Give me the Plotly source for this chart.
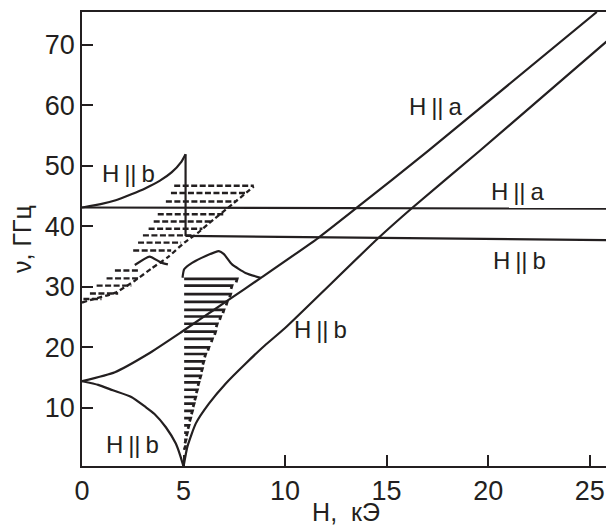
import plotly.graph_objects as go

INK = "#231f20"
FONT = "Liberation Sans, Arial, sans-serif"

# --- solid curves (H in kOe, nu in GHz) ---
hb_top_x = [0, 0.97, 1.66, 2.43, 3.13, 3.82, 4.41, 4.9, 5.1]
hb_top_y = [43.1, 43.7, 44.3, 45.3, 46.3, 47.5, 48.9, 50.7, 51.9]

vert_x = [5.1, 5.1]
vert_y = [51.9, 38.4]

hb_flat_x = [5.1, 26]
hb_flat_y = [38.4, 37.7]

ha_flat_x = [0, 26]
ha_flat_y = [43.1, 42.9]

ha_diag_x = [0, 1.62, 3.25, 4.88, 5.93, 7.07, 8.86, 11.64, 13.47, 17.03, 25.35]
ha_diag_y = [14.4, 15.9, 18.9, 22.5, 24.9, 27.5, 31.6, 38.1, 42.9, 52.4, 75.4]

hb_diag_x = [5.0, 5.19, 5.6, 6.25, 7.07, 8.05, 9.0, 10.0, 14.54, 16.21, 19.56, 26]
hb_diag_y = [0.3, 3.6, 7.4, 10.7, 14.0, 17.3, 20.3, 23.2, 37.9, 42.9, 52.4, 71.0]

hb_low_x = [0, 0.8, 1.52, 2.43, 3.15, 3.57, 4.13, 4.62, 4.85, 5.0]
hb_low_y = [14.4, 13.8, 12.9, 11.8, 10.1, 9.0, 6.8, 4.1, 2.0, 0.3]

bump_x = [4.95, 5.03, 5.44, 6.09, 6.74, 6.99, 7.39, 8.05, 8.79]
bump_y = [31.5, 32.9, 34.0, 35.1, 35.9, 35.4, 33.7, 32.3, 31.5]

squig_x = [2.6, 3.33, 3.9, 4.23]
squig_y = [33.6, 35.0, 34.0, 33.7]

# --- dashed boundary of the dashed-hatched band ---
dash_bound_x = [0, 0.48, 1.62, 2.6, 3.41, 4.23, 5.04, 5.7, 6.25, 7.39, 8.46]
dash_bound_y = [27.4, 27.9, 29.0, 31.0, 33.0, 34.9, 37.3, 38.9, 40.5, 43.6, 46.6]

# dashed hatch rows: level, start, end
dh_y = [46.7, 45.5, 44.1, 42.0, 40.8, 39.6, 38.5, 37.3, 36.0, 32.7, 31.4, 30.2, 28.9, 28.0]
dh_x0 = [4.54, 4.38, 4.13, 3.73, 3.53, 3.28, 3.0, 2.76, 2.52, 1.62, 1.21, 0.72, 0.39, 0.07]
dh_x1 = [8.46, 8.05, 7.56, 6.99, 6.34, 5.93, 5.4, 4.88, 4.39, 2.84, 2.85, 2.43, 1.78, 0.96]

# solid hatch rows: level, end (all start at H = 5.03)
sh_y = [31.3, 30.2, 28.8, 27.5, 26.2, 25.1, 23.9, 22.6, 21.4, 20.0, 18.9, 17.7,
        16.5, 15.3, 14.2, 13.0, 11.8, 10.7, 9.5, 8.3, 7.1, 5.9, 4.7, 3.6]
sh_x1 = [7.64, 7.39, 7.32, 7.15, 6.99, 6.83, 6.66, 6.58, 6.42, 6.25, 6.09, 6.0,
         5.93, 5.85, 5.76, 5.68, 5.6, 5.52, 5.44, 5.35, 5.27, 5.19, 5.12, 5.08]
sh_x0 = 5.03

labels = ["H\u2009||\u2009b", "H\u2009||\u2009b", "H\u2009||\u2009a",
          "H\u2009||\u2009a", "H\u2009||\u2009b", "H\u2009||\u2009b"]
label_x = [2.28, 2.47, 17.43, 21.43, 21.56, 11.76]
label_y = [48.8, 4.0, 59.75, 45.8, 34.3, 23.0]

x_ticks = [0, 5, 10, 15, 20, 25]
y_ticks = [10, 20, 30, 40, 50, 60, 70]

fig = go.Figure()


def solid(x, y, w=2.2):
    fig.add_trace(go.Scatter(x=x, y=y, mode="lines",
                             line=dict(color=INK, width=w, shape="spline", smoothing=0.5),
                             hoverinfo="skip", showlegend=False))


for xs, ys in [(hb_top_x, hb_top_y), (vert_x, vert_y), (hb_flat_x, hb_flat_y),
               (ha_flat_x, ha_flat_y), (ha_diag_x, ha_diag_y), (hb_diag_x, hb_diag_y),
               (hb_low_x, hb_low_y), (bump_x, bump_y), (squig_x, squig_y)]:
    solid(xs, ys)

# dashed boundary
fig.add_trace(go.Scatter(x=dash_bound_x, y=dash_bound_y, mode="lines",
                         line=dict(color=INK, width=2.3, dash="5px,3px", shape="spline", smoothing=0.5),
                         hoverinfo="skip", showlegend=False))

# dashed hatch
hx, hy = [], []
for y, a, b in zip(dh_y, dh_x0, dh_x1):
    hx += [a, b, None]
    hy += [y, y, None]
fig.add_trace(go.Scatter(x=hx, y=hy, mode="lines",
                         line=dict(color=INK, width=2.4, dash="6px,2.5px"),
                         hoverinfo="skip", showlegend=False))

# solid hatch with small down-ticks at the right ends
sx, sy = [], []
for y, b in zip(sh_y, sh_x1):
    sx += [sh_x0, b, b - 0.05, None]
    sy += [y, y, y - 0.55, None]
fig.add_trace(go.Scatter(x=sx, y=sy, mode="lines",
                         line=dict(color=INK, width=2.7),
                         hoverinfo="skip", showlegend=False))

for t, x, y in zip(labels, label_x, label_y):
    fig.add_annotation(x=x, y=y, text=t, showarrow=False,
                       font=dict(family=FONT, size=24, color=INK))

axis_common = dict(showline=True, linecolor=INK, linewidth=1.5, mirror=True,
                   ticks="inside", ticklen=11, tickwidth=1.5, tickcolor=INK,
                   showgrid=False, zeroline=False,
                   tickfont=dict(family=FONT, size=27, color=INK))

fig.update_xaxes(range=[0, 26], tickvals=x_ticks,
                 title=dict(text="H,  кЭ", font=dict(family=FONT, size=25, color=INK), standoff=0),
                 **axis_common)
fig.update_yaxes(range=[0.4, 75.4], tickvals=y_ticks,
                 title=dict(text="ν, ГГц", font=dict(family=FONT, size=25, color=INK), standoff=6),
                 **axis_common)

fig.update_layout(width=606, height=518, margin=dict(l=74, r=2, t=2, b=60),
                  paper_bgcolor="white", plot_bgcolor="white", showlegend=False)

fig.write_html("out.html")
